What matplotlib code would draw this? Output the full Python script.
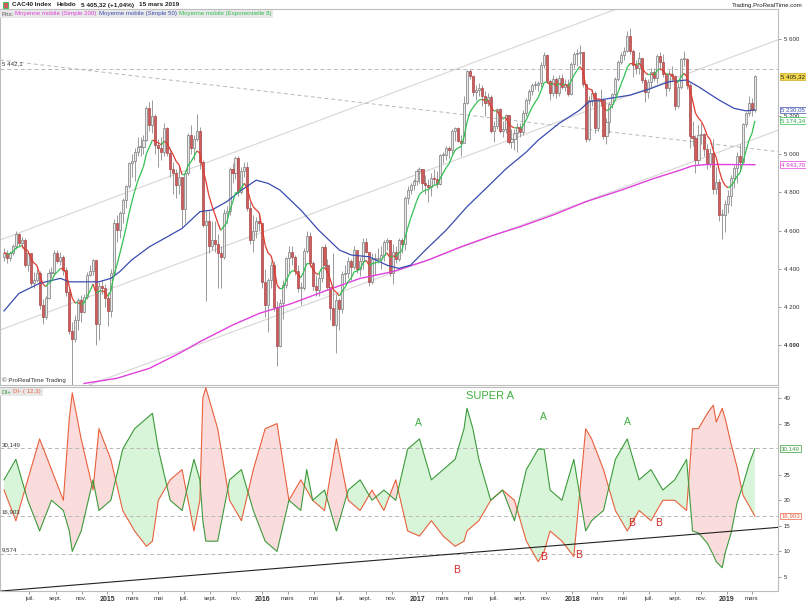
import numpy as np
import pandas as pd
import matplotlib
matplotlib.use("Agg")
import matplotlib.pyplot as plt
from matplotlib.collections import LineCollection

plt.rcParams['font.family'] = ['Liberation Sans', 'DejaVu Sans']

# ---------------- data (weekly bars, first bar = week of 2014-05-09) ----------------
START = pd.Timestamp("2014-05-09")
OPEN0 = 4460
CLOSE = [4485, 4455, 4480, 4520, 4580, 4535, 4550, 4420, 4480, 4325, 4340, 4380, 4210, 4150, 4250, 4380, 4380, 4485, 4440, 4460,
         4395, 4280, 4075, 4035, 4130, 4235, 4175, 4255, 4370, 4390, 4445, 4110, 4310, 4300, 4250, 4180, 4380, 4640, 4605, 4690,
         4760, 4830, 4950, 4965, 5010, 5035, 5035, 5075, 5240, 5150, 5200, 5045, 5030, 5010, 5135, 5005, 4920, 4900, 4840, 4880,
         4710, 4900, 5100, 5030, 5080, 5120, 4960, 4630, 4650, 4520, 4550, 4530, 4480, 4460, 4690, 4700, 4920, 4900, 4980, 4800,
         4910, 4930, 4720, 4550, 4600, 4650, 4640, 4330, 4210, 4340, 4420, 4200, 3995, 4220, 4315, 4455, 4490, 4460, 4390, 4300,
         4300, 4495, 4570, 4430, 4310, 4290, 4350, 4515, 4420, 4305, 4195, 4105, 4235, 4190, 4375, 4380, 4440, 4410, 4500, 4400,
         4440, 4540, 4490, 4330, 4450, 4450, 4450, 4470, 4540, 4550, 4380, 4490, 4450, 4550, 4530, 4770, 4810, 4840, 4860, 4910,
         4920, 4850, 4840, 4825, 4875, 4870, 4845, 4995, 4995, 5030, 5020, 5120, 5135, 5070, 5059, 5267, 5432, 5405, 5324, 5336,
         5343, 5300, 5264, 5295, 5120, 5145, 5235, 5118, 5131, 5203, 5060, 5080, 5110, 5140, 5115, 5215, 5282, 5329, 5360, 5362,
         5372, 5467, 5517, 5380, 5319, 5390, 5316, 5399, 5349, 5365, 5313, 5470, 5520, 5525, 5530, 5365, 5080, 5280, 5320, 5135,
         5275, 5280, 5095, 5165, 5260, 5315, 5390, 5480, 5515, 5540, 5615, 5540, 5465, 5450, 5500, 5385, 5325, 5375, 5430, 5395,
         5510, 5480, 5415, 5345, 5420, 5405, 5250, 5350, 5495, 5495, 5360, 5095, 5085, 4970, 5100, 5105, 5025, 4945, 5005, 4815,
         4855, 4680, 4680, 4740, 4780, 4875, 4925, 4990, 4960, 5155, 5215, 5265, 5231, 5405]
HIGH = [4510, 4500, 4495, 4530, 4595, 4585, 4565, 4560, 4490, 4485, 4385, 4400, 4390, 4240, 4260, 4400, 4410, 4500, 4500, 4490,
        4470, 4410, 4300, 4120, 4160, 4250, 4265, 4270, 4385, 4420, 4450, 4440, 4330, 4340, 4320, 4280, 4400, 4660, 4680, 4700,
        4770, 4840, 4960, 5000, 5030, 5090, 5090, 5100, 5250, 5270, 5280, 5210, 5080, 5090, 5160, 5140, 5030, 4960, 4920, 4940,
        4880, 4910, 5110, 5150, 5100, 5210, 5140, 4970, 4700, 4700, 4650, 4650, 4580, 4520, 4710, 4730, 4930, 4950, 4990, 4990,
        4930, 4960, 4960, 4750, 4680, 4670, 4680, 4610, 4400, 4350, 4440, 4440, 4230, 4240, 4340, 4460, 4520, 4520, 4470, 4420,
        4330, 4510, 4600, 4590, 4440, 4370, 4380, 4520, 4530, 4450, 4300, 4480, 4270, 4250, 4390, 4420, 4460, 4450, 4520, 4500,
        4460, 4560, 4560, 4480, 4480, 4480, 4510, 4520, 4550, 4560, 4550, 4530, 4520, 4560, 4560, 4780, 4830, 4850, 4870, 4920,
        4930, 4920, 4890, 4870, 4900, 4920, 4910, 5000, 5010, 5040, 5040, 5130, 5140, 5140, 5100, 5300, 5440, 5442, 5410, 5360,
        5370, 5360, 5330, 5320, 5310, 5170, 5240, 5240, 5170, 5210, 5200, 5130, 5130, 5160, 5160, 5230, 5290, 5340, 5370, 5380,
        5380, 5480, 5530, 5520, 5390, 5410, 5400, 5410, 5420, 5390, 5390, 5480, 5530, 5550, 5567, 5520, 5360, 5300, 5340, 5330,
        5280, 5340, 5290, 5190, 5270, 5320, 5400, 5490, 5530, 5560, 5640, 5657, 5550, 5490, 5530, 5500, 5400, 5390, 5450, 5450,
        5520, 5530, 5520, 5420, 5440, 5460, 5410, 5370, 5500, 5540, 5500, 5370, 5170, 5100, 5150, 5160, 5110, 5050, 5030, 5080,
        4930, 4870, 4710, 4760, 4810, 4890, 4940, 5010, 5050, 5160, 5220, 5300, 5290, 5410]
LOW = [4440, 4430, 4440, 4470, 4505, 4520, 4510, 4410, 4390, 4310, 4300, 4330, 4190, 4110, 4140, 4240, 4350, 4370, 4430, 4420,
       4370, 4260, 4060, 3790, 4020, 4080, 4120, 4170, 4240, 4360, 4370, 4000, 4030, 4270, 4200, 4100, 4150, 4360, 4540, 4560,
       4640, 4720, 4820, 4880, 4860, 4990, 4990, 5000, 5070, 5120, 5110, 5000, 4930, 4970, 4990, 4990, 4880, 4790, 4770, 4790,
       4620, 4640, 4890, 5000, 4970, 5070, 4920, 4620, 4230, 4480, 4500, 4490, 4300, 4300, 4450, 4640, 4680, 4850, 4870, 4780,
       4790, 4880, 4700, 4530, 4490, 4560, 4600, 4300, 4150, 4070, 4300, 4180, 3890, 3990, 4140, 4300, 4380, 4420, 4370, 4280,
       4210, 4290, 4480, 4410, 4290, 4260, 4260, 4330, 4400, 4290, 4130, 4100, 3960, 4080, 4170, 4330, 4350, 4340, 4400, 4380,
       4360, 4400, 4480, 4310, 4320, 4370, 4430, 4400, 4440, 4500, 4360, 4320, 4430, 4440, 4480, 4500, 4740, 4790, 4810, 4840,
       4850, 4810, 4790, 4750, 4780, 4840, 4820, 4840, 4950, 4970, 4980, 5000, 5070, 5060, 4990, 5180, 5260, 5390, 5300, 5280,
       5300, 5250, 5200, 5250, 5110, 5060, 5130, 5110, 5090, 5110, 5050, 5030, 5020, 5010, 5090, 5100, 5200, 5260, 5310, 5340,
       5330, 5350, 5450, 5370, 5280, 5300, 5290, 5300, 5340, 5330, 5300, 5310, 5450, 5460, 5470, 5350, 5060, 5070, 5250, 5110,
       5120, 5250, 5080, 5050, 5110, 5240, 5300, 5380, 5470, 5490, 5530, 5520, 5400, 5420, 5420, 5370, 5270, 5290, 5350, 5380,
       5370, 5440, 5400, 5300, 5330, 5380, 5230, 5240, 5340, 5460, 5340, 5030, 5040, 4900, 4940, 5050, 4990, 4920, 4930, 4790,
       4790, 4650, 4556, 4590, 4690, 4730, 4820, 4850, 4920, 4950, 5140, 5200, 5200, 5220]

# moving averages (week index, value)
SMA50_WEEK = [0, 5, 12, 19, 22, 26, 32, 36, 39, 43, 49, 55, 60, 66, 70, 75, 80, 85, 89, 93, 100, 106, 113, 117, 123,
              129, 133, 137, 142, 149, 156, 163, 169, 176, 180, 187, 194, 197, 204, 211, 218, 224, 230, 234, 241, 246, 250, 253]
SMA50_VAL = [4180, 4271, 4324, 4350, 4332, 4332, 4332, 4350, 4385, 4446, 4515, 4567, 4611, 4698, 4707, 4750, 4811, 4863,
             4846, 4811, 4707, 4602, 4498, 4472, 4463, 4419, 4402, 4419, 4498, 4602, 4724, 4829, 4920, 5010, 5072, 5159,
             5229, 5272, 5290, 5307, 5342, 5377, 5386, 5351, 5281, 5238, 5225, 5230]
SMA200_WEEK = [27, 38, 49, 59, 66, 77, 86, 97, 109, 120, 131, 143, 154, 165, 174, 185, 196, 208, 219, 228, 232, 237, 253]
SMA200_VAL = [3801, 3828, 3880, 3958, 4019, 4106, 4167, 4219, 4289, 4350, 4385, 4446, 4515, 4576, 4620, 4681, 4750,
              4811, 4872, 4916, 4938, 4945, 4944]

# DI+ / DI- (12,3)
DI_WEEK = [0, 4, 8, 12, 16, 20, 22, 23, 26, 30, 32, 36, 40, 44, 48, 50, 52, 56, 60, 64, 66, 67, 68, 72, 76, 80, 84, 88,
           92, 96, 100, 102, 104, 108, 112, 116, 120, 124, 128, 132, 136, 140, 144, 148, 152, 155, 156, 158, 160, 164,
           168, 172, 176, 180, 182, 184, 188, 192, 196, 198, 202, 206, 210, 214, 218, 222, 226, 230, 232, 234, 237, 239,
           240, 242, 243, 245, 247, 249, 251, 253]
DI_MINUS = [22, 16, 24, 32, 26, 20, 36, 41, 32, 22, 34, 28, 18, 14, 11, 12, 20, 24, 26, 14, 20, 40, 42, 34, 20, 16, 26,
            34, 35, 20, 24, 22, 20, 18, 32, 20, 18, 22, 18, 24, 14, 13, 16, 13, 11, 12, 14, 15, 16, 20, 22, 20, 12, 8,
            10, 14, 12, 9, 34, 32, 26, 18, 14, 18, 16, 20, 20, 18, 34, 34, 37, 38.6, 35.3, 38, 36, 31, 26.5, 21, 19, 16.9]
DI_PLUS = [24, 28, 20, 14, 20, 18, 14, 10, 14, 24, 18, 20, 30, 34, 36, 37, 30, 20, 18, 28, 24, 16, 12, 12, 24, 26, 18,
           12, 10, 20, 18, 26, 20, 22, 14, 22, 24, 20, 22, 20, 30, 32, 24, 26, 28, 34, 38, 34, 28, 20, 22, 16, 26, 30,
           30, 22, 20, 28, 14, 16, 18, 28, 32, 24, 26, 22, 24, 28, 14, 13.6, 11.6, 9.3, 8, 6.8, 9.7, 13.6, 19.5, 23, 27, 30.1]

# hand drawn trend lines (week, value) pairs
CHANNEL = [((0, 4558), (253, 6028)), ((0, 4088), (253, 5551)), ((0, 3629), (253, 5079))]
DASHED_TREND = ((0, 5488), (253, 5026))
LEVEL_HIGH = 5442.1
DI_TREND = ((0, 2.3), (253, 14.33))
DI_LEVELS = [30.149, 16.903, 9.574]

LAST = 5405.32
LAST_SMA50 = 5230.05
LAST_EMA8 = 5174.34
LAST_SMA200 = 4943.70

A_MARKS = [(163.7, 40.4, "SUPER A"), (139.8, 35.1, "A"), (181.6, 36.3, "A"), (209.9, 35.3, "A")]
B_MARKS = [(152.6, 6.4), (181.9, 8.9), (193.7, 9.3), (211.3, 15.6), (220.7, 15.6)]

# ---------------- figure ----------------
W, H = 806, 605
fig = plt.figure(figsize=(W / 100, H / 100), dpi=100)
fig.patch.set_facecolor("white")
renderer = fig.canvas.get_renderer()
FS = 4.4

def fx(px):
    return px / W

def fy(py):
    return 1 - py / H

def text_row(x0, y, parts, gap, **kw):
    """Place texts one after the other (pixels), return right end."""
    x = x0
    for txt, col in parts:
        t = fig.text(fx(x), fy(y), txt, color=col, va="center", **kw)
        x = t.get_window_extent(renderer).x1 + gap
    return x

ax = fig.add_axes([0, fy(385), fx(778), fy(9) - fy(385)])
ax2 = fig.add_axes([0, fy(591), fx(778), fy(387) - fy(591)])

XMIN, XMAX = -1.35, 260.8
for a in (ax, ax2):
    a.set_xlim(XMIN, XMAX)
    for s in a.spines.values():
        s.set_color("#bdbdbd")
        s.set_linewidth(0.8)
ax.set_ylim(3793, 5757)
ax2.set_ylim(2.26, 42.15)

close = np.array(CLOSE, float)
high = np.array(HIGH, float)
low = np.array(LOW, float)
opens = np.r_[OPEN0, close[:-1]]
idx = np.arange(len(close))

# trend lines
for p1, p2 in CHANNEL:
    ax.axline(p1, p2, color="#d8d4d4", lw=0.8, zorder=1)
ax.axline(DASHED_TREND[0], DASHED_TREND[1], color="#b8b8b8", lw=0.7, ls=(0, (4, 3)), zorder=1)
ax.axhline(LEVEL_HIGH, color="#b8b8b8", lw=0.7, ls=(0, (4, 3)), zorder=1)

# candles
up = close >= opens
ax.vlines(idx, low, high, color="#8a8a8a", lw=0.6, zorder=2)
body = np.maximum(np.abs(close - opens), 4)
ax.bar(idx[up], body[up], bottom=np.minimum(opens, close)[up], width=0.7,
       color="#e9e9e9", edgecolor="#7a7a7a", lw=0.5, zorder=3)
ax.bar(idx[~up], body[~up], bottom=np.minimum(opens, close)[~up], width=0.7,
       color="#cd5c5c", edgecolor="#a84848", lw=0.5, zorder=3)

# moving averages
ax.plot(SMA200_WEEK, SMA200_VAL, color="#e040dc", lw=1.0, zorder=4)
ax.plot(SMA50_WEEK, SMA50_VAL, color="#3a4cb0", lw=0.9, zorder=4)
ema = pd.Series(close).ewm(span=8, adjust=False).mean().values
pts = np.column_stack([idx, ema])
segs = np.stack([pts[:-1], pts[1:]], axis=1)
cols = ["#2fbf4f" if ema[i + 1] >= ema[i] else "#e03a2e" for i in range(len(ema) - 1)]
ax.add_collection(LineCollection(segs, colors=cols, linewidths=0.9, zorder=4))

# price axis
ax.yaxis.tick_right()
ax.set_xticks([])
pticks = [4000, 4200, 4400, 4600, 4800, 5000, 5200, 5600]
ax.set_yticks(pticks)
ax.set_yticklabels([f"{v:,}".replace(",", " ") for v in pticks], fontsize=FS, color="#333333")
ax.get_yticklabels()[0].set_fontweight("bold")
ax.tick_params(axis="y", length=2.5, width=0.6, color="#888888", pad=1.5)

def tag(a, y, txt, fc, ec, tc):
    a.text(1.004, y, txt, transform=a.get_yaxis_transform(), fontsize=FS, color=tc, va="center", ha="left",
           bbox=dict(boxstyle="square,pad=0.12", fc=fc, ec=ec, lw=0.5), zorder=10, clip_on=False)

tag(ax, LAST, "5 405,32", "#f2d64b", "#c8a820", "#222222")
tag(ax, LAST_SMA50, "5 230,05", "white", "#3a4cb0", "#3a4cb0")
tag(ax, LAST_EMA8, "5 174,34", "white", "#2fbf4f", "#2f9f4f")
tag(ax, LAST_SMA200, "4 943,70", "white", "#e040dc", "#d030cc")

ax.text(0.002, LEVEL_HIGH + 15, "5 442,1", transform=ax.get_yaxis_transform(), fontsize=FS, color="#333333", va="bottom")
ax.text(0.003, 0.004, "© ProRealTime Trading", transform=ax.transAxes, fontsize=FS, color="#333333", va="bottom")

# ---------------- DI panel ----------------
dw = np.array(DI_WEEK, float)
dp = np.array(DI_PLUS, float)
dm = np.array(DI_MINUS, float)
ax2.fill_between(dw, dp, dm, where=dp >= dm, interpolate=True, color="#d9f5d9", lw=0, zorder=1)
ax2.fill_between(dw, dp, dm, where=dp < dm, interpolate=True, color="#fbdcdc", lw=0, zorder=1)
ax2.plot(dw, dm, color="#e8603c", lw=0.8, zorder=3)
ax2.plot(dw, dp, color="#3c9a3c", lw=0.8, zorder=3)
for lv in DI_LEVELS:
    ax2.axhline(lv, color="#b8b8b8", lw=0.7, ls=(0, (4, 3)), zorder=2)
ax2.axline(DI_TREND[0], DI_TREND[1], color="#222222", lw=0.8, zorder=4)

for x, y, t in A_MARKS:
    ax2.text(x, y, t, color="#3fae3f", fontsize=8 if t == "SUPER A" else 7.5, ha="center", va="center", zorder=5)
for x, y in B_MARKS:
    ax2.text(x, y, "B", color="#d42a2a", fontsize=7.5, ha="center", va="center", zorder=5)

ax2.yaxis.tick_right()
dticks = [5, 10, 15, 20, 25, 35, 40]
ax2.set_yticks(dticks)
ax2.set_yticklabels([str(v) for v in dticks], fontsize=FS, color="#333333")
ax2.tick_params(axis="y", length=2.5, width=0.6, color="#888888", pad=1.5)
tag(ax2, DI_LEVELS[0], "30,149", "white", "#3c9a3c", "#3c9a3c")
tag(ax2, DI_LEVELS[1], "16,903", "white", "#e8603c", "#e8603c")
for lv, txt in zip(DI_LEVELS, ["30,149", "16,903", "9,574"]):
    ax2.text(0.002, lv + 0.3, txt, transform=ax2.get_yaxis_transform(), fontsize=FS, color="#333333", va="bottom")

# month labels
months = pd.date_range("2014-07-01", "2019-03-01", freq="2MS")
names = {3: "mars", 5: "mai", 7: "juil.", 9: "sept.", 11: "nov."}
mpos = [(m - START).days / 7 + 1 for m in months]
ax2.set_xticks(mpos)
labs = ax2.set_xticklabels([str(m.year) if m.month == 1 else names[m.month] for m in months], fontsize=FS,
                           color="#333333")
for m, lb in zip(months, labs):
    if m.month == 1:
        lb.set_fontweight("bold")
        lb.set_fontsize(5)
ax2.tick_params(axis="x", length=2, width=0.6, color="#888888", pad=1.5)

# ---------------- header ----------------
fig.patches.append(plt.Rectangle((fx(3), fy(8)), fx(5), fy(2) - fy(8), transform=fig.transFigure,
                                 fc="#cd5c5c", ec="#2fbf4f", lw=0.6, zorder=0))
text_row(12, 5, [("CAC40 Index", "#222222"), ("Hebdo", "#222222"), ("5 405,32 (+1,04%)", "#222222"),
                 ("15 mars 2019", "#222222")], 5, fontsize=4.6, fontweight="bold")
fig.text(fx(803), fy(5), "Trading.ProRealTime.com", fontsize=FS, ha="right", va="center", color="#222222")

end = text_row(1, 14, [("Prix:", "#555555"), ("Moyenne mobile (Simple 200)", "#e040dc"),
                       ("Moyenne mobile (Simple 50)", "#3a4cb0"),
                       ("Moyenne mobile (Exponentielle 8)", "#2fbf4f")], 2, fontsize=FS, zorder=6)
fig.patches.append(plt.Rectangle((0, fy(18)), fx(end), fy(10) - fy(18), transform=fig.transFigure,
                                 fc="#e8e8e8", ec="none", zorder=5))

end = text_row(1, 392, [("DI+", "#3c9a3c"), ("DI- ( 12,3)", "#e8603c")], 2, fontsize=FS, zorder=6)
fig.patches.append(plt.Rectangle((0, fy(396)), fx(end), fy(388) - fy(396), transform=fig.transFigure,
                                 fc="#e8e8e8", ec="none", zorder=5))

fig.savefig("out.png", dpi=100)
